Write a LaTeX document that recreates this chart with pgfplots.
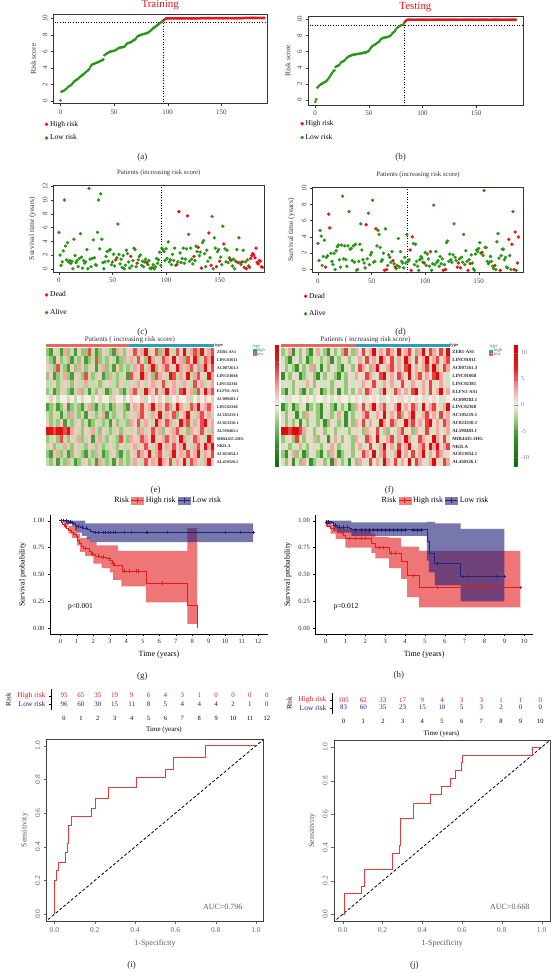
\documentclass[border=0pt]{standalone}
\usepackage{fontspec}
\setmainfont{Liberation Serif}
\usepackage{pgfplots}
\pgfplotsset{compat=1.18}
\usepackage{pgfplotstable}
\usepgfplotslibrary{fillbetween}
\newcommand{\fs}[1]{\fontsize{#1}{#1}\selectfont}
\definecolor{grn}{RGB}{40,150,20}
\definecolor{rred}{RGB}{230,20,20}
\definecolor{kmred}{RGB}{228,26,28}
\definecolor{kmblue}{RGB}{35,35,125}
\definecolor{annred}{RGB}{236,100,95}
\definecolor{annteal}{RGB}{40,160,185}
\definecolor{rocred}{RGB}{232,60,60}
\pgfdeclareplotmark{cell}{\pgfpathrectangle{\pgfpoint{-1.8bp}{-4bp}}{\pgfpoint{3.6bp}{8bp}}\pgfusepathqfill}
\pgfplotsset{
 colormap={hmF}{rgb255(0cm)=(15,105,15) rgb255(5.7cm)=(55,145,40) rgb255(8.7cm)=(150,200,120) rgb255(11.7cm)=(240,240,228) rgb255(14.7cm)=(246,165,165) rgb255(18.7cm)=(230,30,30) rgb255(23.4cm)=(215,0,0)},
 colormap={hmE}{rgb255(0cm)=(15,105,15) rgb255(2.6cm)=(55,145,40) rgb255(5.1cm)=(150,200,120) rgb255(7.1cm)=(240,240,228) rgb255(9.1cm)=(246,165,165) rgb255(12.1cm)=(230,30,30) rgb255(14.2cm)=(215,0,0)},
 every axis/.append style={/pgf/number format/assume math mode=true, scale only axis},
 rplot/.style={anchor=north west, tick align=outside, xtick pos=left, ytick pos=left,
   axis line style={line width=0.5pt, black!80}, tick style={line width=0.4pt, black!80},
   major tick length=2.5bp, ticklabel style={font=\fs{7}, text=black!75},
   yticklabel style={rotate=90, anchor=south}, label style={font=\fs{7.5}, text=black!80},
   legend style={draw=none, fill=none, font=\fs{7.5}, inner sep=0pt},
   legend cell align=left},
 kmplot/.style={anchor=north west, axis lines*=left, axis line style={line width=0.5pt, black},
   tick align=outside, major tick length=2bp, tick style={black},
   ticklabel style={font=\fs{6.5}, text=black!85}, label style={font=\fs{8}},
   xlabel={Time (years)}, ylabel={Survival probability}, ytick={0,0.25,0.5,0.75,1},
   yticklabel style={/pgf/number format/.cd, fixed, fixed zerofill, precision=2},
   ymin=-0.053, ymax=1.05, width=218bp, height=118.7bp,
   legend style={draw=none, fill=none, font=\fs{8}, anchor=center},
   legend columns=3, legend cell align=left},
 rtab/.style={anchor=north west, axis lines*=left, x axis line style={draw=none}, xtick style={draw=none},
   y axis line style={black}, ytick style={black}, tick align=outside, major tick length=2bp,
   ytick={1,2}, ticklabel style={font=\fs{7.5}}, xticklabel style={font=\fs{6.5}},
   xlabel={Time (years)}, ylabel={Risk}, label style={font=\fs{7}}, clip=false},
 rocplot/.style={anchor=north west, tick align=outside, xtick pos=left, ytick pos=left,
   axis line style={black!75, line width=0.6pt}, tick style={black!60}, major tick length=3bp,
   ticklabel style={font=\fs{7.5}, text=black!60}, yticklabel style={rotate=90, anchor=south},
   label style={font=\fs{8}, text=black!65}, xlabel={1-Specificity}, ylabel={Sensitivity},
   xtick={0,0.2,0.4,0.6,0.8,1}, ytick={0,0.2,0.4,0.6,0.8,1},
   xticklabel style={/pgf/number format/.cd, fixed, fixed zerofill, precision=1},
   yticklabel style={/pgf/number format/.cd, fixed, fixed zerofill, precision=1}},
 hmap/.style={anchor=north west, width=168.6bp, height=117.8bp, xmin=-0.5, xmax=47.5, ymin=-0.5, ymax=14.5,
   y dir=reverse, axis line style={draw=none}, xtick=\empty, ytick={0,...,14}, yticklabel pos=right,
   ytick style={draw=none},
   yticklabels={ZEB1-AS1,LINC01011,AC007261.3,LINC01068,LINC02381,ELFN1-AS1,AC009283.1,LINC02368,AC105219.1,AC023310.1,AL590483.1,MIR4435-2HG,NKILA,AC021054.1,AL450326.1}},
}
\begin{document}
\pgfplotstableread[header=false]{
-2 -4 1 -1 -4 2 -2 -1  -4 1 -2 -2 4 -1 -4 -2  1 -1 -2 -4 2 -1 -2 1  1 4 -1 2 6 -1 1 4  -2 2 6 1 -1 4 1 6  -1 2 4 -2 6 1 2 4
-1 -2 -4 1 -2 -1 2 -4  -1 -2 1 -4 -2 -1 4 -2  -1 -2 1 -1 -4 -2 2 -1  2 -1 4 1 -2 6 2 1  -1 4 2 -1 6 1 2 -2  4 1 6 2 -1 4 2 6
1 -1 -2 4 -1 -2 -4 1  -2 2 -1 -2 -1 1 -4 -1  2 -2 -1 -4 1 -2 -1 -2  -1 2 1 4 -1 2 6 -2  1 2 4 -1 1 6 2 -1  2 4 1 -2 2 6 1 4
-2 1 -4 -2 -1 2 -2 -4  1 -1 -2 4 -1 -2 -1 1  -4 -2 2 -1 -2 -1 1 -4  4 1 -1 6 2 1 -2 4  2 1 -1 6 4 -1 2 1  6 -1 2 4 1 -1 6 2
-1 -1 1 -2 -1 1 -1 -2  1 -1 -1 2 -1 -1 1 -2  -1 1 -1 -1 -2 1 -1 -1  1 -1 2 1 -1 1 2 -1  1 4 -1 1 2 1 -1 2  1 -1 4 1 2 -1 1 2
-2 -1 -4 -2 1 -1 -2 -4  -1 2 -2 -1 -4 -1 -2 1  -1 -4 -2 -1 1 -2 -4 -1  2 4 1 -1 6 2 1 4  -1 2 6 1 2 -1 4 6  1 2 -2 4 1 6 2 4
0 1 0 -1 0 0 1 0  -1 0 1 0 0 -1 0 1  0 0 -1 1 0 0 -1 0  1 0 0 1 -1 0 1 0  1 0 -1 1 0 1 0 0  1 -1 0 1 0 1 0 1
-4 -2 -1 -4 -2 1 -4 -2  -1 -2 -4 -1 2 -2 -4 -1  -2 -1 -4 -2 1 -1 -2 -4  1 2 -1 4 1 2 6 -1  2 1 4 -2 1 6 2 1  -1 4 2 6 1 2 4 1
-1 -2 1 -1 -4 -1 -2 2  -1 -2 -1 -4 1 -1 -2 -1  2 -4 -1 -2 -1 1 -2 -1  1 -1 2 4 1 -1 2 1  6 -1 2 1 4 -2 1 2  6 1 -1 2 4 1 2 -1
1 -2 -1 -2 1 -4 -1 -2  -1 1 -2 -1 -4 -2 1 -1  -2 -1 -4 1 -2 -1 -1 -2  2 1 4 -1 2 1 -1 6  2 1 4 2 -1 1 6 2  4 -1 2 1 4 6 1 2
6 6 4 6 6 4 6 2  1 -1 -2 1 -1 2 -1 -2  1 -1 -2 -1 1 -2 -1 1  -1 1 -2 2 -1 1 4 -1  2 -2 1 -1 2 4 -1 1  -2 2 1 -1 4 1 -1 2
-2 -1 1 -2 4 -1 -2 1  -1 2 -2 -1 1 -4 -1 2  -1 -2 1 -1 -2 4 -1 -2  2 1 -1 4 2 1 6 -1  1 2 4 -1 2 1 6 2  -1 1 4 2 1 -1 6 2
-1 1 -2 -1 -1 2 -1 -2  1 -1 -1 -2 1 -1 2 -1  -2 -1 1 -1 -2 1 -1 -1  1 2 -1 1 4 1 -1 2  6 1 2 -1 4 1 2 6  1 -1 2 4 1 6 2 6
-2 -4 -1 2 -2 -1 -4 -2  1 -1 -2 -4 -1 -2 2 -1  -4 -2 -1 1 -2 -4 -1 -2  1 -1 4 2 1 6 -1 2  4 1 -1 2 6 1 2 -1  4 1 2 6 -1 2 1 4
-1 -2 1 -4 -1 -2 2 -1  -4 -2 -1 1 -2 -1 -4 2  -1 -2 -1 -4 1 -2 -1 -2  -1 2 1 -1 4 1 2 -1  6 2 1 4 -1 2 1 6  -1 4 2 1 -1 2 6 1
}\tabE
\pgfplotstableread[header=false]{
-3 -1 3 -6 -1 -3 1 -3  -6 -1 3 -1 -3 -6 1 -3  -1 -3 6 -1 -3 3 1 6  -1 3 10 1 3 -1 6 3  1 10 -1 3 6 1 -3 3  10 1 6 3 1 6 -1 10
-1 -3 -6 -1 1 -3 -1 -6  -3 1 -1 -3 -1 3 -6 -1  -3 -1 1 -3 -1 1 3 -1  6 1 3 -1 10 3 1 6  -1 3 1 10 3 -1 6 1  3 10 -1 3 6 1 3 6
1 -3 -1 -3 -6 1 -3 -1  3 -3 -1 -6 -1 -3 1 -1  -3 -6 -1 1 -3 -1 6 3  1 -3 3 10 1 -1 3 6  1 3 -1 6 10 1 3 -1  3 6 1 10 3 -1 6 3
-6 -1 -3 1 -1 -6 -3 -1  1 -3 -6 -1 -3 1 -1 -3  -6 -1 -3 1 -1 3 1 -1  6 3 -1 1 6 10 -1 3  1 6 3 -1 10 1 3 6  -1 3 1 6 10 3 1 -1
-1 1 -1 -3 1 -1 -1 3  -1 -3 1 -1 -1 1 -3 -1  1 -1 -3 1 -1 1 -1 3  1 -1 6 1 -1 3 1 3  -1 1 6 1 -1 3 1 -1  3 1 6 -1 1 3 1 -1
-3 -6 -1 -3 1 -3 -6 -1  -3 -1 1 -6 -3 -1 -3 1  -6 -1 -3 -1 -3 1 3 -1  6 3 1 -1 3 10 1 -1  6 3 1 3 -1 6 10 1  3 -1 6 1 3 10 -1 3
0 -1 1 0 0 -1 0 1  0 -1 0 0 1 0 -1 0  1 0 0 -1 0 1 0 -1  1 0 1 0 -1 1 0 1  0 1 -1 0 1 0 1 0  -1 1 0 1 0 -1 1 0
-6 -3 -1 -6 -3 -1 1 -6  -3 -1 -3 -6 -1 1 -3 -6  -1 -3 -1 -6 -3 3 1 6  -1 3 10 1 3 6 -1 1  3 10 -1 3 1 6 3 -1  10 1 3 6 1 -1 3 10
-1 -3 1 -1 -6 -1 -3 3  -1 -1 -3 -6 1 -1 -3 -1  3 -1 -6 -1 -3 1 -1 3  6 1 -1 3 1 10 -1 3  1 6 -3 1 3 10 1 -1  3 6 1 3 -1 6 1 3
1 -3 -1 -3 1 -6 -1 -3  -1 1 -3 -1 -6 -3 1 -1  -3 -1 -6 1 -3 3 1 6  -1 3 1 -1 10 3 1 6  3 -1 1 10 3 6 -1 3  1 6 10 1 3 -1 6 3
10 10 6 10 10 6 3 -1  1 -3 -1 1 -3 -1 1 -3  -1 1 -1 -3 1 -1 1 -3  3 -1 1 6 -1 3 -3 1  -1 3 6 -1 1 -3 3 1  -1 6 1 -1 3 1 -1 3
-3 -1 1 -3 6 -1 -3 1  -1 3 -3 -1 1 -6 -1 3  -1 -3 1 -1 -3 3 1 -1  6 3 1 10 -1 1 3 6  -1 3 1 10 3 -1 1 6  3 1 -1 10 3 1 6 -1
-1 1 -3 -1 -1 3 -1 -3  1 -1 -1 -3 1 -1 3 -1  -3 -1 1 -1 -3 1 3 -1  1 6 1 -1 3 10 1 3  -1 6 1 3 10 1 -1 3  6 1 10 3 10 1 3 6
-3 -6 -1 3 -3 -1 -6 -3  1 -1 -3 -6 -1 -3 3 -1  -6 -3 -1 1 -3 1 -1 6  3 1 10 -1 3 6 1 -1  3 10 1 3 -1 6 1 3  10 -1 3 1 6 3 -1 1
-1 -3 1 -6 -1 -3 3 -1  -6 -3 -1 1 -3 -1 -6 3  -1 -3 -1 -6 1 -3 3 1  -1 6 1 3 -1 10 3 1  6 -1 3 1 10 -1 6 3  1 -1 3 10 1 -1 6 3
}\tabF
\begin{tikzpicture}
% ---------------- (a) ----------------
\begin{axis}[rplot, at={(53.4bp,-14.6bp)}, width=213.6bp, height=89.1bp,
  xmin=-6.5, xmax=192.5, ymin=-0.3, ymax=10.45, xtick={0,50,100,150}, ytick={0,2,4,6,8,10},
  ylabel={Risk score}, title={Training}, title style={font=\fs{11}, text=rred, yshift=-4.5bp},
  legend style={at={(-0.04,-0.17)}, anchor=north west, row sep=3pt}]
\addlegendimage{only marks, mark=*, mark size=1.5bp, rred}\addlegendentry{High risk}
\addlegendimage{only marks, mark=*, mark size=1.5bp, grn}\addlegendentry{Low risk}
\addplot[forget plot, dotted, black, line width=0.6pt] coordinates {(-10,9.55)(200,9.55)};
\addplot[forget plot, dotted, black, line width=0.6pt] coordinates {(96,-1)(96,9.55)};
\addplot[forget plot, only marks, mark=*, mark size=1.15bp, grn] coordinates {
(0,0.10)(1,1.15)(2,1.20)(3,1.25)(4,1.35)(5,1.45)(6,1.55)(7,1.70)(8,1.80)(9,1.85)(10,1.95)(11,2.10)(12,2.25)(13,2.40)(14,2.50)(15,2.60)(16,2.65)(17,2.75)(18,2.90)(19,3.00)(20,3.10)(21,3.20)(22,3.30)(23,3.40)(24,3.55)(25,3.65)(26,3.75)(27,3.90)(28,4.15)(29,4.35)(30,4.45)(31,4.50)(32,4.55)(33,4.60)(34,4.65)(35,4.70)(36,4.75)(37,4.85)(38,4.90)(39,4.95)(40,5.05)(41,5.55)(42,5.65)(43,5.75)(44,5.80)(45,5.90)(46,5.95)(47,6.00)(48,6.02)(49,6.05)(50,6.10)(51,6.15)(52,6.20)(53,6.30)(54,6.40)(55,6.45)(56,6.50)(57,6.50)(58,6.52)(59,6.55)(60,6.60)(61,6.80)(62,6.95)(63,7.00)(64,7.05)(65,7.10)(66,7.15)(67,7.25)(68,7.35)(69,7.40)(70,7.50)(71,7.70)(72,7.85)(73,7.90)(74,7.95)(75,8.00)(76,8.05)(77,8.10)(78,8.12)(79,8.15)(80,8.20)(81,8.25)(82,8.30)(83,8.40)(84,8.50)(85,8.60)(86,8.75)(87,8.85)(88,8.95)(89,9.05)(90,9.15)(91,9.25)(92,9.35)(93,9.45)(94,9.55)(95,9.65)};
\addplot[forget plot, only marks, mark=*, mark size=1.15bp, rred] coordinates {
(96,9.75)(97,9.85)(98,9.95)(99,10)(100,10)(101,10)(102,10)(103,10)(104,10)(105,10)(106,10)(107,10)(108,10)(109,10)(110,10)(111,10)(112,10)(113,10)(114,10)(115,10)(116,10)(117,10)(118,10)(119,10)(120,10)(121,10)(122,10)(123,10)(124,10)(125,10)(126,10)(127,10)(128,10)(129,10)(130,10)(131,10.02)(132,10.02)(133,10.02)(134,10.02)(135,10.02)(136,10.02)(137,10.02)(138,10.02)(139,10.02)(140,10.02)(141,10.02)(142,10.02)(143,10.02)(144,10.02)(145,10.02)(146,10.02)(147,10.02)(148,10.02)(149,10.02)(150,10.02)(151,10.02)(152,10.02)(153,10.02)(154,10.02)(155,10.02)(156,10.02)(157,10.02)(158,10.02)(159,10.02)(160,10.02)(161,10.02)(162,10.02)(163,10.02)(164,10.02)(165,10.02)(166,10.02)(167,10.02)(168,10.02)(169,10.02)(170,10.02)(171,10.05)(172,10.05)(173,10.05)(174,10.05)(175,10.05)(176,10.05)(177,10.05)(178,10.05)(179,10.05)(180,10.05)(181,10.05)(182,10.05)(183,10.05)(184,10.05)(185,10.05)(186,10.05)(187,10.05)(188,10.05)(189,10.05)(190,10.05)};
\end{axis}
% ---------------- (b) ----------------
\begin{axis}[rplot, at={(308bp,-16.5bp)}, width=214.8bp, height=88.5bp,
  xmin=-6.7, xmax=193.5, ymin=-0.6, ymax=10.35, xtick={0,50,100,150}, ytick={0,2,4,6,8,10},
  ylabel={Risk score}, title={Testing}, title style={font=\fs{11}, text=rred, yshift=-4.5bp},
  legend style={at={(-0.035,-0.15)}, anchor=north west, row sep=3pt}]
\addlegendimage{only marks, mark=*, mark size=1.5bp, rred}\addlegendentry{High risk}
\addlegendimage{only marks, mark=*, mark size=1.5bp, grn}\addlegendentry{Low risk}
\addplot[forget plot, dotted, black, line width=0.6pt] coordinates {(-10,9.3)(200,9.3)};
\addplot[forget plot, dotted, black, line width=0.6pt] coordinates {(83,-1)(83,9.3)};
\addplot[forget plot, only marks, mark=*, mark size=1.15bp, grn] coordinates {
(0,-0.20)(1,0.10)(2,1.55)(3,1.70)(4,1.85)(5,1.95)(6,2.00)(7,2.10)(8,2.15)(9,2.25)(10,2.30)(11,2.45)(12,2.60)(13,2.80)(14,3.00)(15,3.20)(16,3.40)(17,3.60)(18,3.70)(19,4.10)(20,4.20)(21,4.25)(22,4.30)(23,4.45)(24,4.65)(25,4.75)(26,4.80)(27,4.90)(28,5.00)(29,5.20)(30,5.30)(31,5.40)(32,5.45)(33,5.50)(34,5.55)(35,5.60)(36,5.62)(37,5.65)(38,5.68)(39,5.70)(40,5.72)(41,5.75)(42,5.78)(43,5.80)(44,5.82)(45,5.85)(46,5.88)(47,5.90)(48,5.95)(49,6.00)(50,6.10)(51,6.30)(52,6.50)(53,6.65)(54,6.75)(55,6.85)(56,6.90)(57,7.00)(58,7.10)(59,7.20)(60,7.30)(61,7.50)(62,7.60)(63,7.70)(64,7.72)(65,7.75)(66,7.78)(67,7.80)(68,7.85)(69,7.90)(70,7.95)(71,8.10)(72,8.30)(73,8.40)(74,8.50)(75,8.70)(76,8.90)(77,9.00)(78,9.10)(79,9.20)(80,9.25)(81,9.30)(82,9.35)};
\addplot[forget plot, only marks, mark=*, mark size=1.15bp, rred] coordinates {
(83,9.6)(84,9.75)(85,9.9)(86,9.95)(87,9.95)(88,9.95)(89,9.95)(90,9.95)(91,9.95)(92,9.95)(93,9.95)(94,9.95)(95,9.95)(96,9.95)(97,9.95)(98,9.95)(99,9.95)(100,9.95)(101,9.95)(102,9.95)(103,9.95)(104,9.95)(105,9.95)(106,9.95)(107,9.95)(108,9.95)(109,9.95)(110,9.95)(111,9.95)(112,9.95)(113,9.95)(114,9.95)(115,9.95)(116,9.95)(117,9.95)(118,9.95)(119,9.95)(120,9.95)(121,9.95)(122,9.95)(123,9.95)(124,9.95)(125,9.95)(126,9.95)(127,9.95)(128,9.95)(129,9.95)(130,9.95)(131,9.95)(132,9.95)(133,9.95)(134,9.95)(135,9.95)(136,9.95)(137,9.95)(138,9.95)(139,9.95)(140,9.95)(141,9.95)(142,9.95)(143,9.95)(144,9.95)(145,9.95)(146,9.95)(147,9.95)(148,9.95)(149,9.95)(150,9.95)(151,9.95)(152,9.95)(153,9.95)(154,9.95)(155,9.95)(156,9.95)(157,9.95)(158,9.95)(159,9.95)(160,9.95)(161,9.95)(162,9.95)(163,9.95)(164,9.95)(165,9.95)(166,9.95)(167,9.95)(168,9.95)(169,9.95)(170,9.95)(171,9.95)(172,9.95)(173,9.95)(174,9.95)(175,9.95)(176,9.95)(177,9.95)(178,9.95)(179,9.95)(180,9.95)(181,9.95)(182,9.95)(183,9.95)(184,9.95)(185,9.95)(186,9.95)(187,9.95)};
\end{axis}
% ---------------- (c) ----------------
\begin{axis}[rplot, at={(53.4bp,-185.1bp)}, width=210.8bp, height=86.9bp,
  xmin=-5.2, xmax=191.6, ymin=-0.47, ymax=12.17, xtick={0,50,100,150}, ytick={0,2,4,6,8,10,12},
  ylabel={Survival time (years)}, title={Patients (increasing risk score)}, title style={font=\fs{6.8}, text=black!80},
  legend style={at={(-0.04,-0.2)}, anchor=north west, row sep=7pt}]
\addlegendimage{only marks, mark=*, mark size=1.5bp, rred}\addlegendentry{Dead}
\addlegendimage{only marks, mark=*, mark size=1.5bp, grn}\addlegendentry{Alive}
\addplot[forget plot, dotted, black, line width=0.6pt] coordinates {(95.5,-1)(95.5,13)};
\addplot[forget plot, only marks, mark=*, mark size=1.5bp, grn] coordinates {
(0,5.3)(1,2.0)(2,0.5)(3,1.0)(4,2.6)(5,10.0)(6,3.3)(7,1.3)(8,3.8)(9,1.0)(10,1.2)(11,0.8)(12,1.1)(13,0.0)(14,4.3)(15,1.9)(16,0.9)(17,1.2)(18,0.3)(19,1.5)(20,5.1)(21,1.7)(22,0.1)(23,1.2)(24,0.8)(25,1.0)(26,2.8)(27,0.0)(28,11.7)(29,1.4)(30,0.3)(31,1.5)(32,4.2)(33,1.6)(34,0.6)(35,0.5)(36,5.3)(37,10.0)(38,2.9)(39,10.9)(40,4.3)(41,0.9)(42,0.0)(43,1.0)(44,1.8)(45,2.5)(46,1.1)(47,2.7)(48,2.8)(49,0.6)(50,1.0)(51,2.1)(52,0.4)(54,1.6)(55,6.5)(56,2.1)(57,0.7)(58,1.4)(59,0.2)(60,1.9)(61,0.0)(62,0.5)(63,2.7)(64,2.2)(65,1.0)(66,0.1)(68,0.4)(69,1.2)(70,3.0)(71,2.8)(72,0.3)(74,1.3)(75,1.8)(76,2.0)(77,0.5)(78,1.1)(79,0.3)(80,1.0)(81,1.4)(83,0.6)(84,1.2)(85,0.1)(86,0.0)(87,0.2)(88,0.6)(89,0.0)(90,0.3)(91,1.5)(92,0.8)(93,1.3)(94,2.4)(95,0.5)(96,3.0)(97,2.8)(98,2.5)(99,1.2)(100,2.9)(101,1.5)(102,3.9)(103,1.0)(104,1.3)(105,0.6)(106,2.1)(107,1.2)(108,3.0)(109,0.5)(111,1.0)(113,2.3)(114,0.9)(115,1.5)(116,3.0)(117,0.8)(118,1.4)(119,2.9)(121,5.0)(122,1.1)(123,3.0)(124,1.4)(125,0.7)(127,1.2)(128,3.3)(129,2.5)(131,1.9)(132,2.4)(134,3.8)(135,4.1)(136,2.2)(137,0.3)(138,2.7)(139,1.1)(141,1.6)(143,7.6)(144,0.0)(145,4.5)(146,3.0)(148,2.5)(149,2.8)(151,1.7)(152,0.6)(153,6.2)(155,2.9)(156,1.0)(157,2.7)(158,0.9)(159,1.6)(161,1.2)(162,0.4)(163,1.4)(164,0.0)(165,1.1)(166,2.8)(168,4.5)(169,0.9)(170,0.6)(172,2.7)(174,1.0)(176,1.3)(178,0.2)};
\addplot[forget plot, only marks, mark=*, mark size=1.5bp, rred] coordinates {
(53,1.3)(67,1.8)(73,0.8)(82,0.9)(110,0.6)(112,8.3)(120,7.7)(126,1.8)(130,3.1)(133,0.1)(140,5.2)(142,0.5)(147,0.3)(150,1.1)(154,3.6)(160,1.3)(167,0.9)(171,1.0)(173,0.2)(175,0.0)(177,0.4)(179,1.5)(180,1.9)(181,2.2)(182,2.0)(183,1.6)(184,3.0)(185,0.9)(186,0.7)(187,1.2)(188,1.1)(189,0.3)(190,0.2)};
\end{axis}
% ---------------- (d) ----------------
\begin{axis}[rplot, at={(312.4bp,-187.3bp)}, width=211.1bp, height=85.4bp,
  xmin=-5.2, xmax=191.8, ymin=-0.39, ymax=10.09, xtick={0,50,100,150}, ytick={0,2,4,6,8,10},
  ylabel={Survival time (years)}, title={Patients (increasing risk score)}, title style={font=\fs{6.8}, text=black!80},
  legend style={at={(-0.04,-0.21)}, anchor=north west, row sep=7pt}]
\addlegendimage{only marks, mark=*, mark size=1.5bp, rred}\addlegendentry{Dead}
\addlegendimage{only marks, mark=*, mark size=1.5bp, grn}\addlegendentry{Alive}
\addplot[forget plot, dotted, black, line width=0.6pt] coordinates {(83,-1)(83,11)};
\addplot[forget plot, only marks, mark=*, mark size=1.5bp, grn] coordinates {
(0,3.2)(1,1.1)(2,4.8)(3,4.1)(4,0.5)(5,1.6)(6,3.6)(8,1.5)(9,1.7)(12,2.0)(13,1.0)(14,0.6)(15,2.0)(16,0.0)(17,2.3)(18,2.8)(19,3.0)(20,1.2)(21,0.3)(22,3.0)(23,9.0)(24,1.3)(25,2.9)(26,1.2)(27,0.4)(28,2.9)(29,7.1)(30,2.5)(31,2.6)(32,1.1)(33,2.9)(34,0.9)(35,3.1)(36,-0.1)(37,0.0)(38,1.0)(39,3.1)(40,5.6)(41,2.4)(42,1.2)(43,0.8)(44,0.2)(46,1.3)(47,6.9)(48,0.6)(49,1.8)(50,2.1)(51,8.5)(52,0.9)(53,1.0)(55,2.9)(56,4.8)(57,4.3)(58,2.7)(59,1.0)(60,1.2)(61,2.0)(63,5.0)(65,0.5)(66,1.8)(67,1.5)(68,0.9)(69,2.2)(71,0.7)(73,0.1)(74,0.5)(75,3.8)(76,0.3)(77,2.2)(78,1.0)(79,0.8)(80,0.2)(81,1.5)(82,0.8)(83,4.3)(84,1.0)(85,1.2)(89,3.2)(90,0.6)(91,3.1)(92,1.0)(93,0.4)(94,-0.1)(95,1.2)(96,1.6)(97,1.4)(98,0.9)(100,2.1)(101,0.5)(102,1.9)(103,1.3)(104,0.4)(106,-0.1)(107,0.7)(108,7.9)(109,0.6)(110,2.2)(111,0.9)(112,1.1)(113,0.4)(114,1.6)(115,0.7)(116,1.3)(118,0.6)(120,3.3)(121,3.5)(122,1.0)(123,1.9)(124,1.2)(125,0.9)(126,1.8)(127,5.6)(128,1.5)(129,1.1)(132,1.3)(134,1.5)(135,0.9)(136,4.3)(137,0.6)(138,2.3)(139,1.0)(141,1.2)(143,1.8)(144,0.8)(145,0.1)(146,-0.1)(147,1.9)(148,2.4)(149,2.2)(150,2.6)(151,3.3)(152,2.0)(154,1.7)(155,9.7)(156,2.7)(157,2.7)(158,1.0)(159,0.7)(160,0.9)(161,1.6)(162,1.0)(163,0.4)(164,0.1)(166,0.0)(167,3.4)(168,4.4)(169,1.4)(171,1.7)(172,2.5)(173,2.5)(174,1.2)(175,1.5)(176,0.3)(177,0.2)(179,1.7)(180,0.0)(182,7.1)(185,-0.1)};
\addplot[forget plot, only marks, mark=*, mark size=1.5bp, rred] coordinates {
(7,0.3)(10,6.8)(11,5.1)(45,5.5)(54,5.0)(62,-0.1)(64,0.0)(70,1.1)(72,0.3)(86,2.4)(87,-0.1)(88,4.0)(99,0.8)(105,2.2)(117,-0.1)(119,0.0)(130,0.3)(131,0.8)(133,0.2)(140,-0.1)(142,0.7)(153,2.1)(165,0.5)(170,-0.1)(178,3.7)(181,3.1)(183,0.0)(184,4.6)(186,0.8)(187,4.0)};
\end{axis}
% ---------------- (e) heatmap ----------------
\begin{axis}[anchor=north west, at={(45.7bp,-344bp)}, width=168.6bp, height=3.2bp,
  xmin=-0.5, xmax=47.5, ymin=0, ymax=1, hide axis]
\addplot[fill=annred, draw=none] coordinates {(-0.5,0)(23.5,0)(23.5,1)(-0.5,1)} -- cycle;
\addplot[fill=annteal, draw=none] coordinates {(23.5,0)(47.5,0)(47.5,1)(23.5,1)} -- cycle;
\end{axis}
\begin{axis}[hmap, at={(45.7bp,-348.4bp)},
  yticklabel style={font=\fs{4.2}\bfseries, text=black!85, xshift=-1bp},
  colormap name=hmE, point meta min=-7.1, point meta max=7.1,
  colorbar, colorbar shift/.style={xshift=28.1bp, yshift=4.4bp},
  colorbar style={width=3.6bp, height=122bp, scale only axis, y dir=normal, ytick={-5,0,5},
    yticklabel style={font=\fs{6}, text=black!55}, major tick length=1.5bp,
    ytick style={black!55}, axis line style={draw=none}}]
\pgfplotsinvokeforeach{0,...,47}{
  \addplot[scatter, only marks, mark=cell, scatter/use mapped color={draw=none, fill=mapped color}, point meta=explicit]
    table[x expr=#1, y expr=\coordindex, meta index=#1] {\tabE};
}
\end{axis}
% ---------------- (f) heatmap ----------------
\begin{axis}[anchor=north west, at={(281.1bp,-344bp)}, width=168.7bp, height=3.2bp,
  xmin=-0.5, xmax=47.5, ymin=0, ymax=1, hide axis]
\addplot[fill=annred, draw=none] coordinates {(-0.5,0)(20.7,0)(20.7,1)(-0.5,1)} -- cycle;
\addplot[fill=annteal, draw=none] coordinates {(20.7,0)(47.5,0)(47.5,1)(20.7,1)} -- cycle;
\end{axis}
\begin{axis}[hmap, at={(281.1bp,-348.4bp)}, width=168.7bp,
  yticklabel style={font=\fs{4.8}\bfseries, text=black!85, xshift=-1bp},
  colormap name=hmF, point meta min=-11.7, point meta max=11.7,
  colorbar, colorbar shift/.style={xshift=27.4bp, yshift=4.4bp},
  colorbar style={width=3.8bp, height=122bp, scale only axis, y dir=normal, ytick={-10,-5,0,5,10},
    yticklabel style={font=\fs{6}, text=black!55}, major tick length=1.5bp,
    ytick style={black!55}, axis line style={draw=none}}]
\pgfplotsinvokeforeach{0,...,47}{
  \addplot[scatter, only marks, mark=cell, scatter/use mapped color={draw=none, fill=mapped color}, point meta=explicit]
    table[x expr=#1, y expr=\coordindex, meta index=#1] {\tabF};
}
\end{axis}
% ---------------- (g) KM training ----------------
\begin{axis}[kmplot, at={(50bp,-515.3bp)}, xmin=-0.63, xmax=12.6, xtick={0,...,12},
  legend style={at={(0.54,1.123)}}]
\addlegendimage{empty legend}\addlegendentry{Risk}
\addlegendimage{legend image code/.code={\fill[kmred!55!white] (0bp,-3.5bp) rectangle (12bp,3.5bp); \draw[kmred, line width=0.8pt] (0bp,0bp)--(12bp,0bp) (6bp,-2.5bp)--(6bp,2.5bp);}}\addlegendentry{High risk}
\addlegendimage{legend image code/.code={\fill[kmblue!60!white] (0bp,-3.5bp) rectangle (12bp,3.5bp); \draw[kmblue, line width=0.8pt] (0bp,0bp)--(12bp,0bp) (6bp,-2.5bp)--(6bp,2.5bp);}}\addlegendentry{Low risk}
\addplot[forget plot, name path=gru, const plot, draw=none] coordinates {(0,1)(0.5,0.95)(1.0,0.88)(1.2,0.84)(1.8,0.80)(2.2,0.77)(3.5,0.72)(7.7,0.93)(8.3,0.93)};
\addplot[forget plot, name path=grl, const plot, draw=none] coordinates {(0,1)(0.2,0.95)(0.5,0.88)(0.7,0.84)(1.0,0.77)(1.2,0.71)(1.5,0.67)(2.0,0.60)(2.5,0.56)(3.0,0.52)(3.2,0.45)(3.7,0.39)(5.2,0.24)(7.7,0.04)(8.3,0.04)};
\addplot[forget plot, fill=kmred, fill opacity=0.6, draw=none] fill between[of=gru and grl];
\addplot[forget plot, name path=gbu, const plot, draw=none] coordinates {(0,1)(1.5,0.975)(11.7,0.975)};
\addplot[forget plot, name path=gbl, const plot, draw=none] coordinates {(0,1)(0.3,0.97)(0.7,0.95)(0.9,0.91)(1.0,0.89)(1.3,0.86)(1.6,0.83)(1.8,0.80)(11.7,0.80)};
\addplot[forget plot, fill=kmblue, fill opacity=0.62, draw=none] fill between[of=gbu and gbl];
\addplot[forget plot, const plot, kmred, line width=0.8pt] coordinates {(0,1)(0.08,0.98)(0.15,0.97)(0.25,0.95)(0.35,0.93)(0.5,0.91)(0.65,0.89)(0.8,0.87)(0.95,0.85)(1.05,0.82)(1.15,0.79)(1.25,0.76)(1.4,0.74)(1.75,0.71)(1.9,0.69)(2.1,0.67)(2.5,0.66)(2.8,0.65)(3.0,0.63)(3.15,0.60)(3.3,0.58)(3.75,0.53)(5.2,0.42)(7.7,0.21)(8.3,0.0)};
\addplot[forget plot, const plot, kmblue, line width=0.8pt] coordinates {(0,1)(0.5,0.99)(0.7,0.975)(0.9,0.96)(1.0,0.95)(1.2,0.94)(1.4,0.93)(1.6,0.915)(1.8,0.90)(2.0,0.89)(11.7,0.89)};
\addplot[forget plot, only marks, mark=+, mark size=1.8bp, kmred, line width=0.5pt] coordinates {(0.3,0.95)(1.5,0.74)(1.95,0.69)(2.3,0.67)(2.6,0.66)(2.95,0.65)(3.2,0.60)(3.9,0.53)(4.2,0.53)(4.6,0.53)(4.75,0.53)(6.2,0.42)};
\addplot[forget plot, only marks, mark=+, mark size=1.8bp, kmblue, line width=0.5pt] coordinates {(0.05,1)(0.2,1)(0.35,1)(0.6,0.99)(0.8,0.975)(1.1,0.95)(1.3,0.94)(1.55,0.93)(2.1,0.89)(2.3,0.89)(2.6,0.89)(2.75,0.89)(2.9,0.89)(3.05,0.89)(3.2,0.89)(3.35,0.89)(3.9,0.89)(4.3,0.89)(5.2,0.89)(5.3,0.89)(6.5,0.89)(10.0,0.89)(10.9,0.89)(11.7,0.89)};
\node[font=\fs{7.5}, anchor=west] at (axis cs:0.25,0.2) {p<0.001};
\end{axis}
% ---------------- (h) KM testing ----------------
\begin{axis}[kmplot, at={(315.3bp,-515.3bp)}, width=217.7bp, xmin=-0.52, xmax=10.44, xtick={0,...,10},
  legend style={at={(0.55,1.123)}}]
\addlegendimage{empty legend}\addlegendentry{Risk}
\addlegendimage{legend image code/.code={\fill[kmred!55!white] (0bp,-3.5bp) rectangle (12bp,3.5bp); \draw[kmred, line width=0.8pt] (0bp,0bp)--(12bp,0bp) (6bp,-2.5bp)--(6bp,2.5bp);}}\addlegendentry{High risk}
\addlegendimage{legend image code/.code={\fill[kmblue!60!white] (0bp,-3.5bp) rectangle (12bp,3.5bp); \draw[kmblue, line width=0.8pt] (0bp,0bp)--(12bp,0bp) (6bp,-2.5bp)--(6bp,2.5bp);}}\addlegendentry{Low risk}
\addplot[forget plot, name path=hru, const plot, draw=none] coordinates {(0,0.99)(0.3,0.96)(0.6,0.94)(1.0,0.92)(2.3,0.88)(2.5,0.85)(3.2,0.84)(3.8,0.76)(4.7,0.72)(9.8,0.72)};
\addplot[forget plot, name path=hrl, const plot, draw=none] coordinates {(0,0.94)(0.25,0.88)(0.5,0.83)(1.0,0.75)(2.3,0.70)(2.5,0.65)(3.2,0.56)(3.8,0.46)(4.1,0.29)(4.7,0.195)(9.8,0.195)};
\addplot[forget plot, fill=kmred, fill opacity=0.6, draw=none] fill between[of=hru and hrl];
\addplot[forget plot, name path=hbu, const plot, draw=none] coordinates {(0,1.0)(1.3,0.985)(5.1,0.99)(5.5,0.975)(6.8,0.925)(9.0,0.925)};
\addplot[forget plot, name path=hbl, const plot, draw=none] coordinates {(0,0.97)(0.4,0.92)(0.6,0.89)(1.3,0.86)(5.1,0.63)(5.2,0.52)(5.5,0.40)(6.8,0.25)(9.0,0.25)};
\addplot[forget plot, fill=kmblue, fill opacity=0.62, draw=none] fill between[of=hbu and hbl];
\addplot[forget plot, const plot, kmred, line width=0.8pt] coordinates {(0,0.97)(0.1,0.95)(0.25,0.93)(0.4,0.91)(0.6,0.89)(0.9,0.86)(1.0,0.835)(2.3,0.79)(2.5,0.75)(3.2,0.70)(3.8,0.62)(4.1,0.49)(4.7,0.38)(9.8,0.38)};
\addplot[forget plot, const plot, kmblue, line width=0.8pt] coordinates {(0,0.99)(0.3,0.98)(0.4,0.96)(0.6,0.94)(1.2,0.925)(1.3,0.915)(5.1,0.81)(5.2,0.70)(5.5,0.60)(6.8,0.48)(9.0,0.48)};
\addplot[forget plot, only marks, mark=+, mark size=1.8bp, kmred, line width=0.5pt] coordinates {(0.8,0.89)(1.2,0.835)(1.5,0.835)(1.8,0.835)(2.0,0.835)(2.7,0.75)(2.9,0.75)(3.3,0.70)(3.5,0.70)(4.4,0.49)(5.6,0.38)(7.2,0.38)(8.0,0.38)(9.8,0.38)};
\addplot[forget plot, only marks, mark=+, mark size=1.8bp, kmblue, line width=0.5pt] coordinates {(0.05,0.99)(0.15,0.99)(0.5,0.96)(0.7,0.94)(0.9,0.94)(1.1,0.94)(1.5,0.915)(1.8,0.915)(2.0,0.915)(2.2,0.915)(2.4,0.915)(2.6,0.915)(2.8,0.915)(3.0,0.915)(3.2,0.915)(3.4,0.915)(3.6,0.915)(3.8,0.915)(4.0,0.915)(4.4,0.915)(4.6,0.915)(4.8,0.915)(5.6,0.60)(6.9,0.48)(7.2,0.48)(8.6,0.48)(9.0,0.48)};
\node[font=\fs{7.5}, anchor=west] at (axis cs:0.22,0.2) {p=0.012};
\end{axis}
% ---------------- risk tables ----------------
\begin{axis}[rtab, at={(51bp,-689bp)}, width=226bp, height=21.4bp, xmin=-0.77, xmax=12.6,
  ymin=0.26, ymax=2.78, xtick={0,...,12},
  yticklabels={{\color{kmblue}Low risk},{\color{kmred}High risk}}]
\addplot[draw=none, nodes near coords, point meta=explicit symbolic, nodes near coords align=center,
  every node near coord/.append style={font=\fs{7}, text=kmred, anchor=center}] coordinates {
(0,2)[95](1,2)[65](2,2)[35](3,2)[19](4,2)[9](5,2)[6](6,2)[4](7,2)[3](8,2)[1](9,2)[0](10,2)[0](11,2)[0](12,2)[0]};
\addplot[draw=none, nodes near coords, point meta=explicit symbolic, nodes near coords align=center,
  every node near coord/.append style={font=\fs{7}, text=kmblue, anchor=center}] coordinates {
(0,1)[96](1,1)[60](2,1)[30](3,1)[15](4,1)[11](5,1)[8](6,1)[5](7,1)[4](8,1)[4](9,1)[4](10,1)[2](11,1)[1](12,1)[0]};
\end{axis}
\begin{axis}[rtab, at={(332bp,-693bp)}, width=219bp, height=20.9bp, xmin=-0.59, xmax=10.54,
  ymin=0.18, ymax=2.9, xtick={0,...,10},
  yticklabels={{\color{kmblue}Low risk},{\color{kmred}High risk}}]
\addplot[draw=none, nodes near coords, point meta=explicit symbolic, nodes near coords align=center,
  every node near coord/.append style={font=\fs{7}, text=kmred, anchor=center}] coordinates {
(0,2)[105](1,2)[62](2,2)[33](3,2)[17](4,2)[9](5,2)[4](6,2)[3](7,2)[3](8,2)[1](9,2)[1](10,2)[0]};
\addplot[draw=none, nodes near coords, point meta=explicit symbolic, nodes near coords align=center,
  every node near coord/.append style={font=\fs{7}, text=kmblue, anchor=center}] coordinates {
(0,1)[83](1,1)[60](2,1)[35](3,1)[23](4,1)[15](5,1)[10](6,1)[5](7,1)[3](8,1)[2](9,1)[0](10,1)[0]};
\end{axis}
% ---------------- (i) ROC ----------------
\begin{axis}[rocplot, at={(46.7bp,-739bp)}, width=216.6bp, height=182bp,
  xmin=-0.038, xmax=1.036, ymin=-0.04, ymax=1.04]
\addplot[black, line width=0.8pt, dash pattern=on 3pt off 2pt] coordinates {(-0.05,-0.05)(1.05,1.05)};
\addplot[rocred, line width=0.8pt] coordinates {(0,0)(0,0.2)(0.01,0.2)(0.01,0.26)(0.02,0.26)(0.02,0.31)(0.055,0.31)(0.055,0.37)(0.065,0.37)(0.065,0.42)(0.07,0.42)(0.07,0.53)(0.085,0.53)(0.085,0.58)(0.185,0.58)(0.185,0.63)(0.205,0.63)(0.205,0.69)(0.27,0.69)(0.27,0.75)(0.405,0.75)(0.405,0.81)(0.55,0.81)(0.55,0.86)(0.59,0.86)(0.59,0.93)(0.75,0.93)(0.75,1.0)(1,1)};
\node[font=\fs{8}, text=black!65] at (axis cs:0.835,0.045) {AUC=0.796};
\end{axis}
% ---------------- (j) ROC ----------------
\begin{axis}[rocplot, at={(334.3bp,-740.5bp)}, width=215.7bp, height=180.5bp,
  xmin=-0.042, xmax=1.042, ymin=-0.04, ymax=1.04]
\addplot[black, line width=0.8pt, dash pattern=on 3pt off 2pt] coordinates {(-0.05,-0.05)(1.05,1.05)};
\addplot[rocred, line width=0.8pt] coordinates {(0,0)(0.007,0)(0.007,0.126)(0.092,0.126)(0.092,0.17)(0.109,0.17)(0.109,0.27)(0.25,0.27)(0.25,0.365)(0.283,0.365)(0.283,0.415)(0.29,0.415)(0.29,0.575)(0.355,0.575)(0.355,0.665)(0.44,0.665)(0.44,0.72)(0.497,0.72)(0.497,0.765)(0.54,0.765)(0.54,0.815)(0.568,0.815)(0.568,0.864)(0.595,0.864)(0.595,0.908)(0.6,0.908)(0.6,0.95)(0.953,0.95)(0.953,1.0)(1,1)};
\node[font=\fs{8}, text=black!65] at (axis cs:0.84,0.045) {AUC=0.668};
\end{axis}
% ---------------- texts ----------------
\node[font=\fs{7.2}, text=black!80] at (130bp,-339.5bp) {Patients ( increasing risk score)};
\node[font=\fs{7.2}, text=black!80] at (365.4bp,-339.5bp) {Patients ( increasing risk score)};
\node[font={\fs{4.5}\bfseries}, text=black!80, anchor=west, inner sep=0pt] at (214.5bp,-346bp) {type};
\node[font={\fs{4.8}\bfseries}, text=black!80, anchor=west, inner sep=0pt] at (449.5bp,-346bp) {type};
\node[font=\fs{4.5}, text=black!60, anchor=west, inner sep=0pt] at (252.5bp,-346.3bp) {type};
\fill[annteal] (252.5bp,-349bp) rectangle (256.5bp,-352.5bp);
\fill[annred] (252.5bp,-352.5bp) rectangle (256.5bp,-356bp);
\node[font=\fs{4.5}, text=black!60, anchor=west, inner sep=0pt] at (256.8bp,-350.6bp) {high};
\node[font=\fs{4.5}, text=black!60, anchor=west, inner sep=0pt] at (256.8bp,-354.4bp) {low};
\node[font=\fs{4.8}, text=black!60, anchor=west, inner sep=0pt] at (489.3bp,-346.3bp) {type};
\fill[annteal] (489.3bp,-349.5bp) rectangle (493.3bp,-352.5bp);
\fill[annred] (489.3bp,-352.5bp) rectangle (493.3bp,-355.5bp);
\node[font=\fs{4.8}, text=black!60, anchor=west, inner sep=0pt] at (493.6bp,-350.6bp) {high};
\node[font=\fs{4.8}, text=black!60, anchor=west, inner sep=0pt] at (493.6bp,-354.2bp) {low};
\foreach \t/\x/\y in {(a)/142.3/157,(b)/400.6/157,(c)/142.3/332.7,(d)/400.6/332.7,(e)/155.7/489.9,(f)/389.3/489.9,(g)/142.3/676,(h)/398.8/675.3,(i)/131.7/965.7,(j)/414.3/965.7}
  \node[font=\fs{9}, text=black!85] at (\x bp,-\y bp) {\t};
\pgfresetboundingbox
\path[use as bounding box] (0,0) rectangle (551bp,-972bp);
\end{tikzpicture}
\end{document}
